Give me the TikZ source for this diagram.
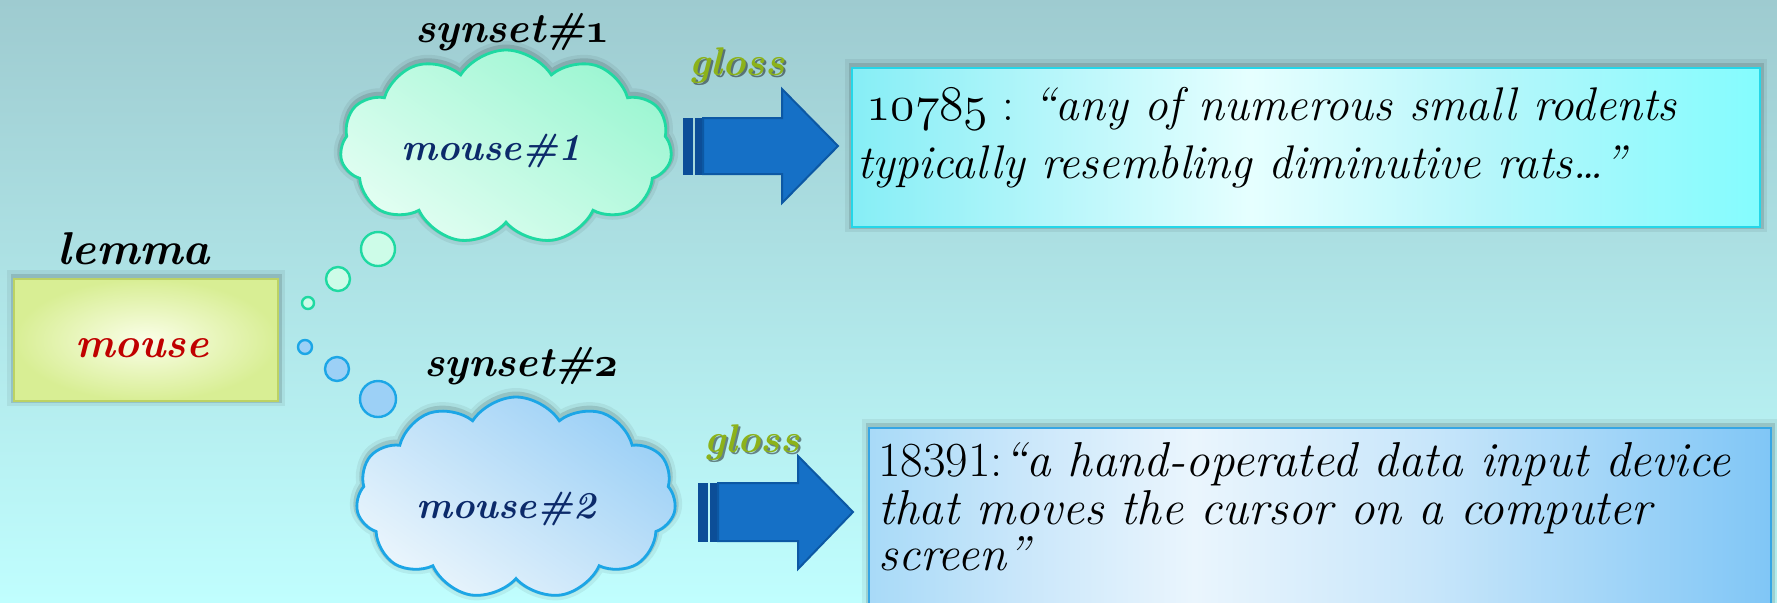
\documentclass[tikz,border=0pt]{standalone}
\usepackage{fontspec}
\usetikzlibrary{shapes.symbols}
\definecolor{bgtop}{HTML}{9ECBD0}
\definecolor{bgmid}{HTML}{B4ECEE}
\definecolor{bgbot}{HTML}{C0FEFE}
\definecolor{mintdark}{HTML}{9CF6D2}
\definecolor{mintlight}{HTML}{E2FEF2}
\definecolor{mintline}{HTML}{1FD9A2}
\definecolor{skydark}{HTML}{9CD0F6}
\definecolor{skylight}{HTML}{EAF5FC}
\definecolor{skyline}{HTML}{1CA6E6}
\definecolor{lemin}{HTML}{FAFEE8}
\definecolor{lemout}{HTML}{D8EE94}
\definecolor{lemline}{HTML}{BCD264}
\definecolor{cyanside}{HTML}{86EEF6}
\definecolor{cyansoft}{HTML}{B6F6FA}
\definecolor{cyanmid}{HTML}{E6FFFF}
\definecolor{cyanright}{HTML}{84FCFE}
\definecolor{cyanline}{HTML}{24D6E8}
\definecolor{blueside}{HTML}{A8DAF8}
\definecolor{bluesoft}{HTML}{C8E6FA}
\definecolor{bluemid}{HTML}{EAF5FD}
\definecolor{blueright}{HTML}{80C6F6}
\definecolor{blueline}{HTML}{36A6E4}
\definecolor{arrowfill}{HTML}{1570C6}
\definecolor{arrowline}{HTML}{0C58A4}
\definecolor{stripe}{HTML}{0C4E98}
\definecolor{navy}{HTML}{0C2A6A}
\definecolor{lemred}{HTML}{C00000}
\definecolor{glossgreen}{HTML}{8CB21A}
\pgfdeclarehorizontalshading{cyanbox}{100bp}{color(0bp)=(cyanside); color(25bp)=(cyanside); color(36bp)=(cyansoft); color(47bp)=(cyanmid); color(60bp)=(cyansoft); color(75bp)=(cyanright); color(100bp)=(cyanright)}
\pgfdeclarehorizontalshading{bluebox}{100bp}{color(0bp)=(blueside); color(25bp)=(blueside); color(33bp)=(bluesoft); color(43bp)=(bluemid); color(56bp)=(bluesoft); color(75bp)=(blueright); color(100bp)=(blueright)}
\newcommand\oldfig[1]{{\fontencoding{OML}\fontfamily{cmm}\fontseries{m}\fontshape{it}\selectfont #1}}
\newcommand\oldfigb[1]{{\fontencoding{OML}\fontfamily{cmm}\fontseries{b}\fontshape{it}\selectfont #1}}
\tikzset{
  halo/.style={preaction={draw=black,draw opacity=0.06,line width=7pt,transform canvas={yshift=1pt}},
               preaction={draw=black,draw opacity=0.12,line width=3.5pt,transform canvas={yshift=1pt}}},
  thought/.style={cloud, cloud puffs=11, cloud puff arc=115, aspect=1.7,
               line width=1.4pt, inner sep=0pt, halo},
  bubble/.style={circle, inner sep=0pt, line width=1.2pt},
  titletext/.style={font=\fontsize{21}{25}\selectfont\bfseries\itshape, inner sep=0pt, anchor=base},
  sensetext/.style={font=\fontsize{19}{23}\selectfont\bfseries\itshape, text=navy, inner sep=0pt, anchor=base},
  glosstext/.style={font=\fontsize{20}{24}\selectfont\bfseries\itshape, text=glossgreen, inner sep=0pt, anchor=base},
  glossshadow/.style={font=\fontsize{20}{24}\selectfont\bfseries\itshape, text=black, text opacity=0.45, inner sep=0pt, anchor=base},
  defone/.style={font=\fontsize{23.6}{28}\selectfont\addfontfeatures{FakeBold=0.4}, inner sep=0pt, anchor=base west},
  deftwo/.style={font=\fontsize{24.5}{28}\selectfont\addfontfeatures{FakeBold=0.4}, inner sep=0pt, anchor=base west},
  arrowbody/.style={fill=arrowfill, draw=arrowline, line width=1pt, line join=miter},
  arrowstripe/.style={fill=stripe, draw=stripe, line width=0.5pt}
}
\begin{document}
\begin{tikzpicture}[x=0.5pt,y=-0.5pt]
\path[use as bounding box] (0,0) rectangle (1777,602);
\shade[top color=bgtop, middle color=bgmid, bottom color=bgbot] (0,0) rectangle (1777,602);

% lemma
\node[titletext, font=\fontsize{23}{27}\selectfont\bfseries\itshape] (lemmalabel) at (134,264) {lemma};
\node[draw=lemline, line width=1.2pt, inner color=lemin, outer color=lemout,
      minimum width=132pt, minimum height=61pt, inner sep=0pt, halo] (lemmabox) at (146,340) {};
\node[titletext, text=lemred] (lemmaword) at (142,357) {mouse};

% thought bubbles
\node[bubble, draw=mintline, fill=mintlight!70!mintdark, minimum size=17pt] (g1) at (378,249) {};
\node[bubble, draw=mintline, fill=mintlight!70!mintdark, minimum size=12pt] (g2) at (338,279) {};
\node[bubble, draw=mintline, fill=mintlight!70!mintdark, minimum size=6pt] (g3) at (308,303) {};
\node[bubble, draw=skyline, fill=skydark, minimum size=7pt] (b1) at (305,347) {};
\node[bubble, draw=skyline, fill=skydark, minimum size=12pt] (b2) at (337,369) {};
\node[bubble, draw=skyline, fill=skydark, minimum size=18pt] (b3) at (378,399) {};

% clouds
\node[thought, draw=mintline, top color=mintdark, bottom color=mintlight, shading angle=-35,
      minimum width=166pt, minimum height=97pt] (cloud1) at (506,147) {};
\node[titletext] (syn1) at (512,42) {synset\#\oldfigb{1}};
\node[sensetext] (sense1) at (491,160) {mouse\#1};

\node[thought, draw=skyline, top color=skydark, bottom color=skylight, shading angle=-35,
      minimum width=160pt, minimum height=101pt] (cloud2) at (516,498) {};
\node[titletext] (syn2) at (521,376) {synset\#\oldfigb{2}};
\node[sensetext] (sense2) at (506,518) {mouse\#2};

% arrows
\fill[arrowstripe] (683,118) rectangle (692,174);
\fill[arrowstripe] (695,118) rectangle (702,174);
\draw[arrowbody] (703,118) -- (782,118) -- (782,89) -- (838,146) -- (782,203) -- (782,174) -- (703,174) -- cycle;
\node[glossshadow] (gl1s) at (739,77) {gloss};
\node[glosstext] (gl1) at (737,75) {gloss};

\fill[arrowstripe] (698,483) rectangle (707,541);
\fill[arrowstripe] (710,483) rectangle (717,541);
\draw[arrowbody] (718,483) -- (798,483) -- (798,456) -- (853,512) -- (798,569) -- (798,541) -- (718,541) -- cycle;
\node[glossshadow] (gl2s) at (754,454) {gloss};
\node[glosstext] (gl2) at (752,452) {gloss};

% definition boxes
\node[draw=cyanline, line width=1.2pt, shading=cyanbox,
      minimum width=454pt, minimum height=79.5pt, inner sep=0pt, halo] (def1) at (1306,147.5) {};
\node[defone] (def1a) at (866,120) {\oldfig{10785} : \textit{“any of numerous small rodents}};
\node[defone] (def1b) at (857,178) {\textit{typically resembling diminutive rats\dots”}};

\node[draw=blueline, line width=1.2pt, shading=bluebox,
      minimum width=451pt, minimum height=94pt, inner sep=0pt, halo] (def2) at (1320,522) {};
\node[deftwo] (def2a) at (878,476) {18391:\textit{“a hand-operated data input device}};
\node[deftwo] (def2b) at (878,524) {\textit{that moves the cursor on a computer}};
\node[deftwo] (def2c) at (878,570) {\textit{screen”}};
\end{tikzpicture}
\end{document}
